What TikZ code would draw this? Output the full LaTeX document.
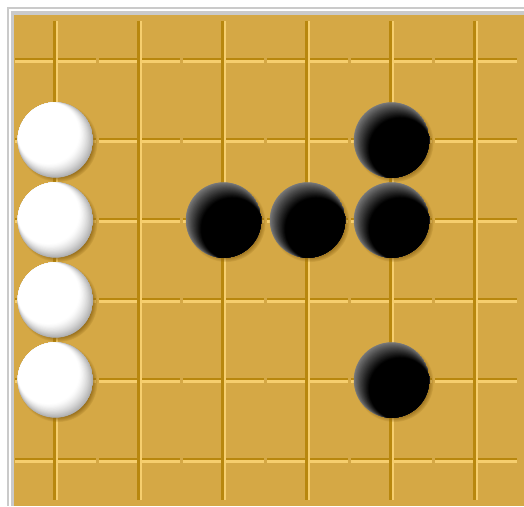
\documentclass[tikz,border=0pt]{standalone}
\usetikzlibrary{shadows,fadings}
\definecolor{board}{HTML}{D5A845}
\definecolor{linedark}{HTML}{B8870E}
\definecolor{linelight}{HTML}{F6CE6E}
\definecolor{framec}{HTML}{CACACA}
\definecolor{shadowc}{HTML}{8A6212}
\tikzset{
  stone/.style={circle, inner sep=0pt, minimum size=75.4pt,
    circular drop shadow={shadow xshift=2.4pt, shadow yshift=-2.4pt, shadow scale=1.05, fill=shadowc, opacity=0.8}},
  blackst/.style={stone, path picture={
    \foreach \i in {0,...,30}{
      \pgfmathsetmacro\s{9*\i/30}
      \pgfmathsetmacro\k{50+50*(\i/30)^0.85}
      \pgfmathsetmacro\rr{38-0.75*\s}
      \fill[black!\k!white] ([xshift=\s pt,yshift=-\s pt]path picture bounding box.center) circle[radius=\rr pt];
    }}},
  whitest/.style={stone, path picture={
    \foreach \i in {0,...,24}{
      \pgfmathsetmacro\s{7*\i/24}
      \pgfmathsetmacro\k{32*(1-\i/24)^1.4}
      \pgfmathsetmacro\rr{38-\s}
      \fill[black!\k!white] ([xshift=-\s pt,yshift=\s pt]path picture bounding box.center) circle[radius=\rr pt];
    }}},
  ldark/.style={draw=linedark, line width=2.7pt},
  llight/.style={draw=linelight, line width=2.7pt},
}
\begin{document}
\begin{tikzpicture}[x=1pt,y=1pt]
\useasboundingbox (0,0) rectangle (524,506);
\fill[white] (0,0) rectangle (524,506);
% frame
\fill[framec] (7,0) rectangle (524,499);
\fill[white] (9,0) rectangle (524,497);
\fill[framec] (11,0) rectangle (524,495);
\fill[board] (14,0) rectangle (524,491);
% horizontal lines
\foreach \r in {0,...,5}{
  \pgfmathsetmacro\Y{445.7-80*\r}
  \foreach \a/\b in {15/96.1, 99.3/180.1, 183.3/264.1, 267.3/348.1, 351.3/432.1, 435.3/517}{
    \draw[ldark] (\a,{\Y+1.3}) -- (\b,{\Y+1.3});
    \draw[llight] (\a,{\Y-1.4}) -- (\b,{\Y-1.4});
  }
}
% vertical lines
\foreach \c in {0,...,5}{
  \pgfmathsetmacro\X{55.7+84*\c}
  \draw[ldark] ({\X-1.3},485) -- ({\X-1.3},6);
  \draw[llight] ({\X+1.3},485) -- ({\X+1.3},6);
}
% stones
\node[whitest] (w1) at (55.4,366) {};
\node[whitest] (w2) at (55.4,286) {};
\node[whitest] (w3) at (55.4,206) {};
\node[whitest] (w4) at (55.4,126) {};
\node[blackst] (b1) at (223.5,286) {};
\node[blackst] (b2) at (307.5,286) {};
\node[blackst] (b3) at (391.5,286) {};
\node[blackst] (b4) at (391.5,366) {};
\node[blackst] (b5) at (391.5,126) {};
\end{tikzpicture}
\end{document}
